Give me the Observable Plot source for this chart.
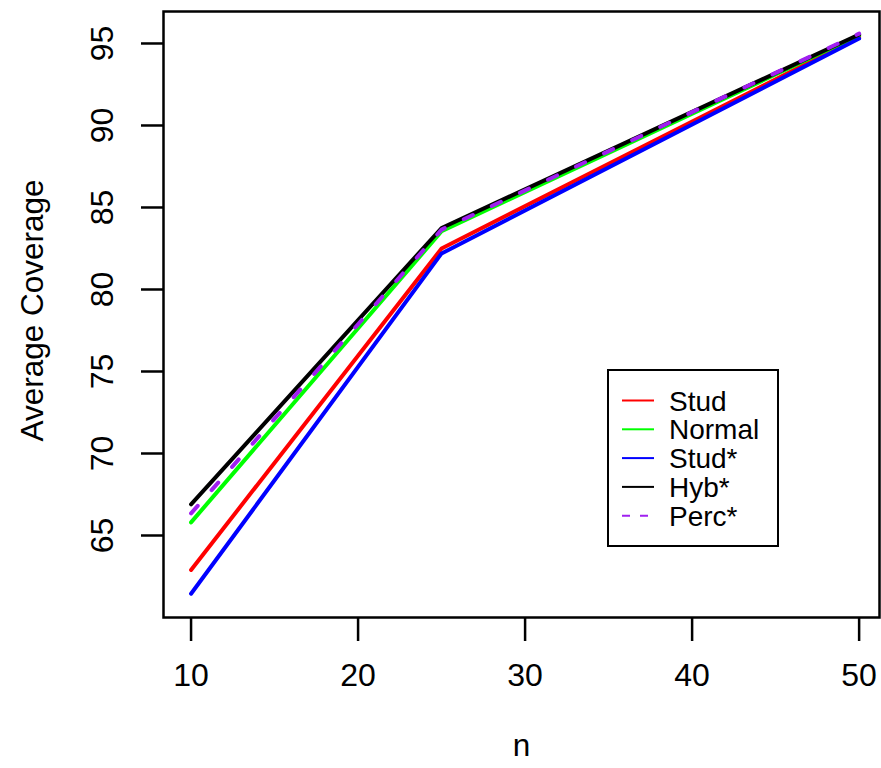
<!DOCTYPE html>
<html><head><meta charset="utf-8">
<script src="https://cdn.jsdelivr.net/npm/d3@7"></script>
<script src="https://cdn.jsdelivr.net/npm/@observablehq/plot@0.6"></script>
<style>
body{margin:0;background:#fff;}
#wrap{position:relative;width:881px;height:768px;font-family:"Liberation Sans",Arial,Helvetica,sans-serif;}
#wrap svg{font-family:"Liberation Sans",Arial,Helvetica,sans-serif;}
#legend{position:absolute;left:0;top:0;pointer-events:none;}
</style></head><body><div id="wrap"></div>
<script>
// ---- data ----
const nValues = [10, 25, 50];
const seriesNames = ["Stud", "Normal", "Stud*", "Hyb*", "Perc*"];
const seriesColors = ["#ff0000", "#00ff00", "#0000ff", "#000000", "#a020f0"];
const seriesDash = [null, null, null, null, "10,21"];
const legendDash = [null, null, null, null, "8,10"];
const stud     = [62.9, 82.5, 95.4];
const normal   = [65.8, 83.55, 95.5];
const studStar = [61.45, 82.2, 95.3];
const hybStar  = [66.9, 83.75, 95.55];
const percStar = [66.35, 83.65, 95.6];
const xTicks = [10, 20, 30, 40, 50];
const yTicks = [65, 70, 75, 80, 85, 90, 95];
const xTitle = "n";
const yTitle = "Average Coverage";

const seriesValues = [stud, normal, studStar, hybStar, percStar];
const rows = seriesNames.map((s, i) => nValues.map((n, j) => ({series: s, n, value: seriesValues[i][j]})));

const W = 881, H = 768;
const mL = 163, mR = 2, mT = 11, mB = 151;

const chart = Plot.plot({
  width: W, height: H,
  marginLeft: mL, marginRight: mR, marginTop: mT, marginBottom: mB,
  style: {fontFamily: '"Liberation Sans",Arial,Helvetica,sans-serif', background: "#fff"},
  x: {domain: [8.35, 51.22]},
  y: {domain: [60.0, 96.95]},
  marks: [
    ...rows.map((data, i) => Plot.line(data, {
      x: "n", y: "value", stroke: seriesColors[i], strokeWidth: 4,
      strokeDasharray: seriesDash[i] ?? undefined,
      strokeLinecap: "round", strokeLinejoin: "round"
    })),
    Plot.frame({stroke: "black", strokeWidth: 2.5}),
    Plot.axisX(xTicks, {tickSize: 24, tickPadding: 22, fontSize: 32, strokeWidth: 2.5, label: null, fill: "black"}),
    Plot.axisY(yTicks, {tickSize: 22, tickPadding: 29, tickRotate: -90, fontSize: 32, strokeWidth: 2.5, label: null, fill: "black"}),
    Plot.text([xTitle], {text: d => d, frameAnchor: "bottom", dy: 128, fontSize: 31.5, textAnchor: "middle", lineAnchor: "middle", fill: "black"}),
    Plot.text([yTitle], {text: d => d, frameAnchor: "left", dx: -131, dy: -4, rotate: -90, fontSize: 31.5, textAnchor: "middle", lineAnchor: "middle", fill: "black"})
  ]
});
document.getElementById("wrap").appendChild(chart);

// ---- legend ----
const lg = d3.select("#wrap").append("svg").attr("id", "legend").attr("width", W).attr("height", H);
lg.append("rect").attr("x", 608).attr("y", 370).attr("width", 170).attr("height", 176)
  .attr("fill", "white").attr("stroke", "black").attr("stroke-width", 2);
seriesNames.forEach((s, i) => {
  const y = 400.5 + i * 28.8;
  lg.append("line").attr("x1", 622).attr("x2", 654).attr("y1", y).attr("y2", y)
    .attr("stroke", seriesColors[i]).attr("stroke-width", 2)
    .attr("stroke-dasharray", legendDash[i]);
  lg.append("text").attr("x", 669).attr("y", y).attr("dy", "0.36em")
    .attr("font-size", 28).attr("fill", "black").text(s);
});
</script></body></html>
